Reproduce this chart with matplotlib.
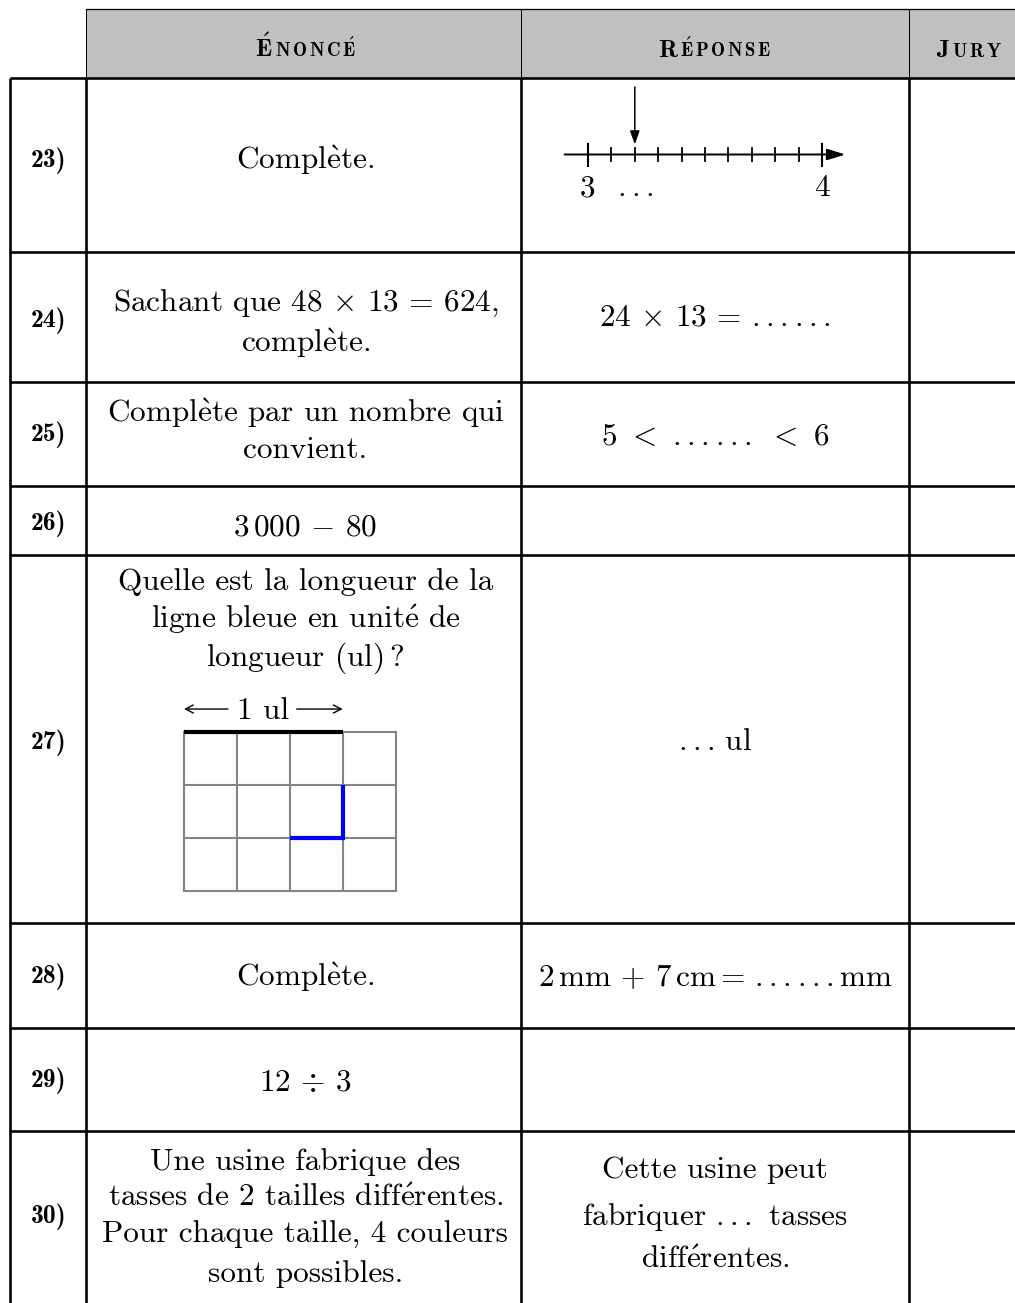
import matplotlib
matplotlib.use("Agg")
import matplotlib.pyplot as plt
import numpy as np

plt.rcParams["mathtext.fontset"] = "cm"

# ---------------- data ----------------
headers = ["Énoncé", "Réponse", "Jury"]
question_numbers = ["23)", "24)", "25)", "26)", "27)", "28)", "29)", "30)"]
enonces = [
    ["Complète."],
    ["Sachant que 48 × 13 = 624,", "complète."],
    ["Complète par un nombre qui", "convient."],
    ["3\u2009000 − 80"],
    ["Quelle est la longueur de la", "ligne bleue en unité de", "longueur (ul)\u2009?"],
    ["Complète."],
    ["12 ÷ 3"],
    ["Une usine fabrique des", "tasses de 2 tailles différentes.",
     "Pour chaque taille, 4 couleurs", "sont possibles."],
]
reponses = [
    [],
    ["24 × 13 = ……"],
    ["5 < …… < 6"],
    [],
    ["…\u2009ul"],
    ["2\u2009mm + 7\u2009cm\u2009= ……mm"],
    [],
    ["Cette usine peut", "fabriquer … tasses", "différentes."],
]
# number line (question 23)
nl_start, nl_end, nl_step = 3, 4, 0.1
nl_target = 3.2
nl_labels = ["3", "…", "4"]
# grid figure (question 27)
grid_cols, grid_rows = 4, 3
unit_segment_x = [0, 3]
unit_segment_y = [0, 0]
unit_label = "1 ul"
blue_path_x = [2, 3, 3]
blue_path_y = [2, 2, 1]

# ---------------- layout ----------------
W, H = 1015, 1303
col_x = [10, 86, 521, 909]
right_edge = 1015
header_top, header_bottom = 9, 78
header_baseline = 57
row_y = [78, 252, 382, 486, 555, 923, 1028, 1131, 1303]
label_x = 49
enonce_cx = (col_x[1] + col_x[2]) / 2 + 2
reponse_cx = (col_x[2] + col_x[3]) / 2
jury_cx = 969
enonce_baselines = [[169], [310.5, 352.5], [421.5, 458], [535],
                    [590.5, 628, 666], [986], [1091.5],
                    [1170, 1206.5, 1243, 1281.5]]
reponse_baselines = [[], [325], [445.5], [], [750], [986], [], [1178, 1225, 1268]]
label_baselines = [167, 327, 441, 530, 748.5, 983, 1087, 1223]

BODY_FS = 22.5
LABEL_FS = 18.5
HEAD_BIG, HEAD_SMALL = 18, 13.5
RM = ["cmr10", "DejaVu Serif"]
BF = ["cmb10", "DejaVu Serif"]

MAP_RM = {
    "è": r"$\grave{\mathrm{e}}$", "é": r"$\acute{\mathrm{e}}$",
    "É": r"$\acute{\mathrm{E}}$", "×": r"$\times$", "÷": r"$\div$",
    "−": r"$-$", "<": r"$<$", "…": r"$...$", "\u2009": r"$\,$",
}
MAP_BF = {"É": r"$\acute{\mathbf{E}}$"}


def tex(s, mapping=MAP_RM):
    out = "".join(mapping.get(c, c) for c in s)
    return out.replace("$$", "")


def tracked(s, mapping=MAP_BF):
    # small caps letter spacing
    return tex(r"$\,$".join(mapping.get(c, c) for c in s), {})


fig = plt.figure(figsize=(W / 100, H / 100), dpi=100)
ax = fig.add_axes([0, 0, 1, 1])
ax.set_xlim(0, W)
ax.set_ylim(H, 0)
ax.axis("off")
renderer = fig.canvas.get_renderer()

px = 0.72  # points per pixel

# header
ax.fill_between([col_x[1], right_edge], header_top, header_bottom, color="#c0c0c0", lw=0, zorder=0)
ax.plot([col_x[1], right_edge], [header_top, header_top], color="black", lw=1.3 * px, solid_capstyle="butt")
for x in col_x[1:]:
    ax.plot([x, x], [header_top, header_bottom], color="black", lw=1.0 * px)

# body grid
for y in row_y[:-1]:
    ax.plot([col_x[0], right_edge], [y, y], color="black", lw=2.6 * px, solid_capstyle="butt")
for x in col_x:
    ax.plot([x, x], [row_y[0], row_y[-1]], color="black", lw=2.6 * px, solid_capstyle="butt")

# header texts (small caps)
head_cx = [enonce_cx, reponse_cx, jury_cx]
for htxt, cx in zip(headers, head_cx):
    first, rest = htxt[0], htxt[1:].upper()
    t1 = ax.text(0, header_baseline, tex(first, MAP_BF), fontsize=HEAD_BIG, family=BF,
                 ha="left", va="baseline")
    t2 = ax.text(0, header_baseline, tracked(rest), fontsize=HEAD_SMALL, family=BF,
                 ha="left", va="baseline")
    w1 = t1.get_window_extent(renderer).width
    w2 = t2.get_window_extent(renderer).width
    gap = 2.5
    x0 = cx - (w1 + gap + w2) / 2
    t1.set_x(x0)
    t2.set_x(x0 + w1 + gap)

# labels and texts
for i in range(len(question_numbers)):
    ax.text(label_x, label_baselines[i], question_numbers[i], fontsize=LABEL_FS,
            family=BF, ha="center", va="baseline")
    for line, yb in zip(enonces[i], enonce_baselines[i]):
        ax.text(enonce_cx, yb, tex(line), fontsize=BODY_FS, family=RM,
                ha="center", va="baseline")
    for line, yb in zip(reponses[i], reponse_baselines[i]):
        ax.text(reponse_cx, yb, tex(line), fontsize=BODY_FS, family=RM,
                ha="center", va="baseline")

# ---------------- number line (Q23) ----------------
nl_px0, nl_px1 = 588, 822  # pixel positions of start/end values
cell_l, cell_r = col_x[2] + 3, col_x[3] - 3
cell_t, cell_b = row_y[0] + 3, row_y[1] - 3
scale = (nl_end - nl_start) / (nl_px1 - nl_px0)
axn = fig.add_axes([cell_l / W, 1 - cell_b / H, (cell_r - cell_l) / W, (cell_b - cell_t) / H])
axn.set_xlim(nl_start - (nl_px0 - cell_l) * scale, nl_end + (cell_r - nl_px1) * scale)
axn.set_ylim(cell_b, cell_t)
axn.axis("off")
line_y = 154.5
axn.annotate("", xy=(nl_end + nl_step, line_y), xytext=(nl_start - nl_step, line_y),
             arrowprops=dict(arrowstyle="-|>,head_length=0.55,head_width=0.17",
                             lw=1.4, color="black", mutation_scale=20,
                             shrinkA=0, shrinkB=0))
ticks = np.round(np.arange(nl_start, nl_end + nl_step / 2, nl_step), 2)
for t in ticks:
    major = np.isclose(t, nl_start) or np.isclose(t, nl_end)
    h = 11 if major else 6.5
    axn.plot([t, t], [line_y - h, line_y + h], color="black", lw=1.5 if major else 1.3)
axn.annotate("", xy=(nl_target, line_y - 10), xytext=(nl_target, 87),
             arrowprops=dict(arrowstyle="-|>,head_length=0.45,head_width=0.16",
                             lw=1.1, color="black", mutation_scale=18,
                             shrinkA=0, shrinkB=0))
for val, lab in zip([nl_start, nl_target, nl_end], nl_labels):
    axn.text(val, 196.5, tex(lab), fontsize=BODY_FS, family=RM, ha="center", va="baseline")

# ---------------- grid figure (Q27) ----------------
g_x0, g_y0, g_cell = 184, 732.3, 52.9
box_l, box_r, box_t, box_b = 150, 440, 690, 905
axg = fig.add_axes([box_l / W, 1 - box_b / H, (box_r - box_l) / W, (box_b - box_t) / H])
axg.set_xlim((box_l - g_x0) / g_cell, (box_r - g_x0) / g_cell)
axg.set_ylim((box_b - g_y0) / g_cell, (box_t - g_y0) / g_cell)
axg.axis("off")
for c in range(grid_cols + 1):
    axg.plot([c, c], [0, grid_rows], color="#858585", lw=1.5, solid_capstyle="projecting")
for r in range(grid_rows + 1):
    axg.plot([0, grid_cols], [r, r], color="#858585", lw=1.5, solid_capstyle="projecting")
axg.plot(unit_segment_x, unit_segment_y, color="black", lw=3.0, solid_capstyle="butt")
axg.plot(blue_path_x, blue_path_y, color="#0000ff", lw=3.0, solid_capstyle="butt",
         solid_joinstyle="miter")
mid = (unit_segment_x[0] + unit_segment_x[1]) / 2
axg.text(mid, -0.25, unit_label, fontsize=BODY_FS, family=RM, ha="center", va="baseline")
arr_y = -0.44
for a, b in [(0.83, unit_segment_x[0]), (2.13, unit_segment_x[1])]:
    axg.annotate("", xy=(b, arr_y), xytext=(a, arr_y),
                 arrowprops=dict(arrowstyle="->,head_length=0.35,head_width=0.18",
                                 lw=1.0, color="black", mutation_scale=16,
                                 shrinkA=0, shrinkB=0))

fig.savefig("out.png", dpi=100)
